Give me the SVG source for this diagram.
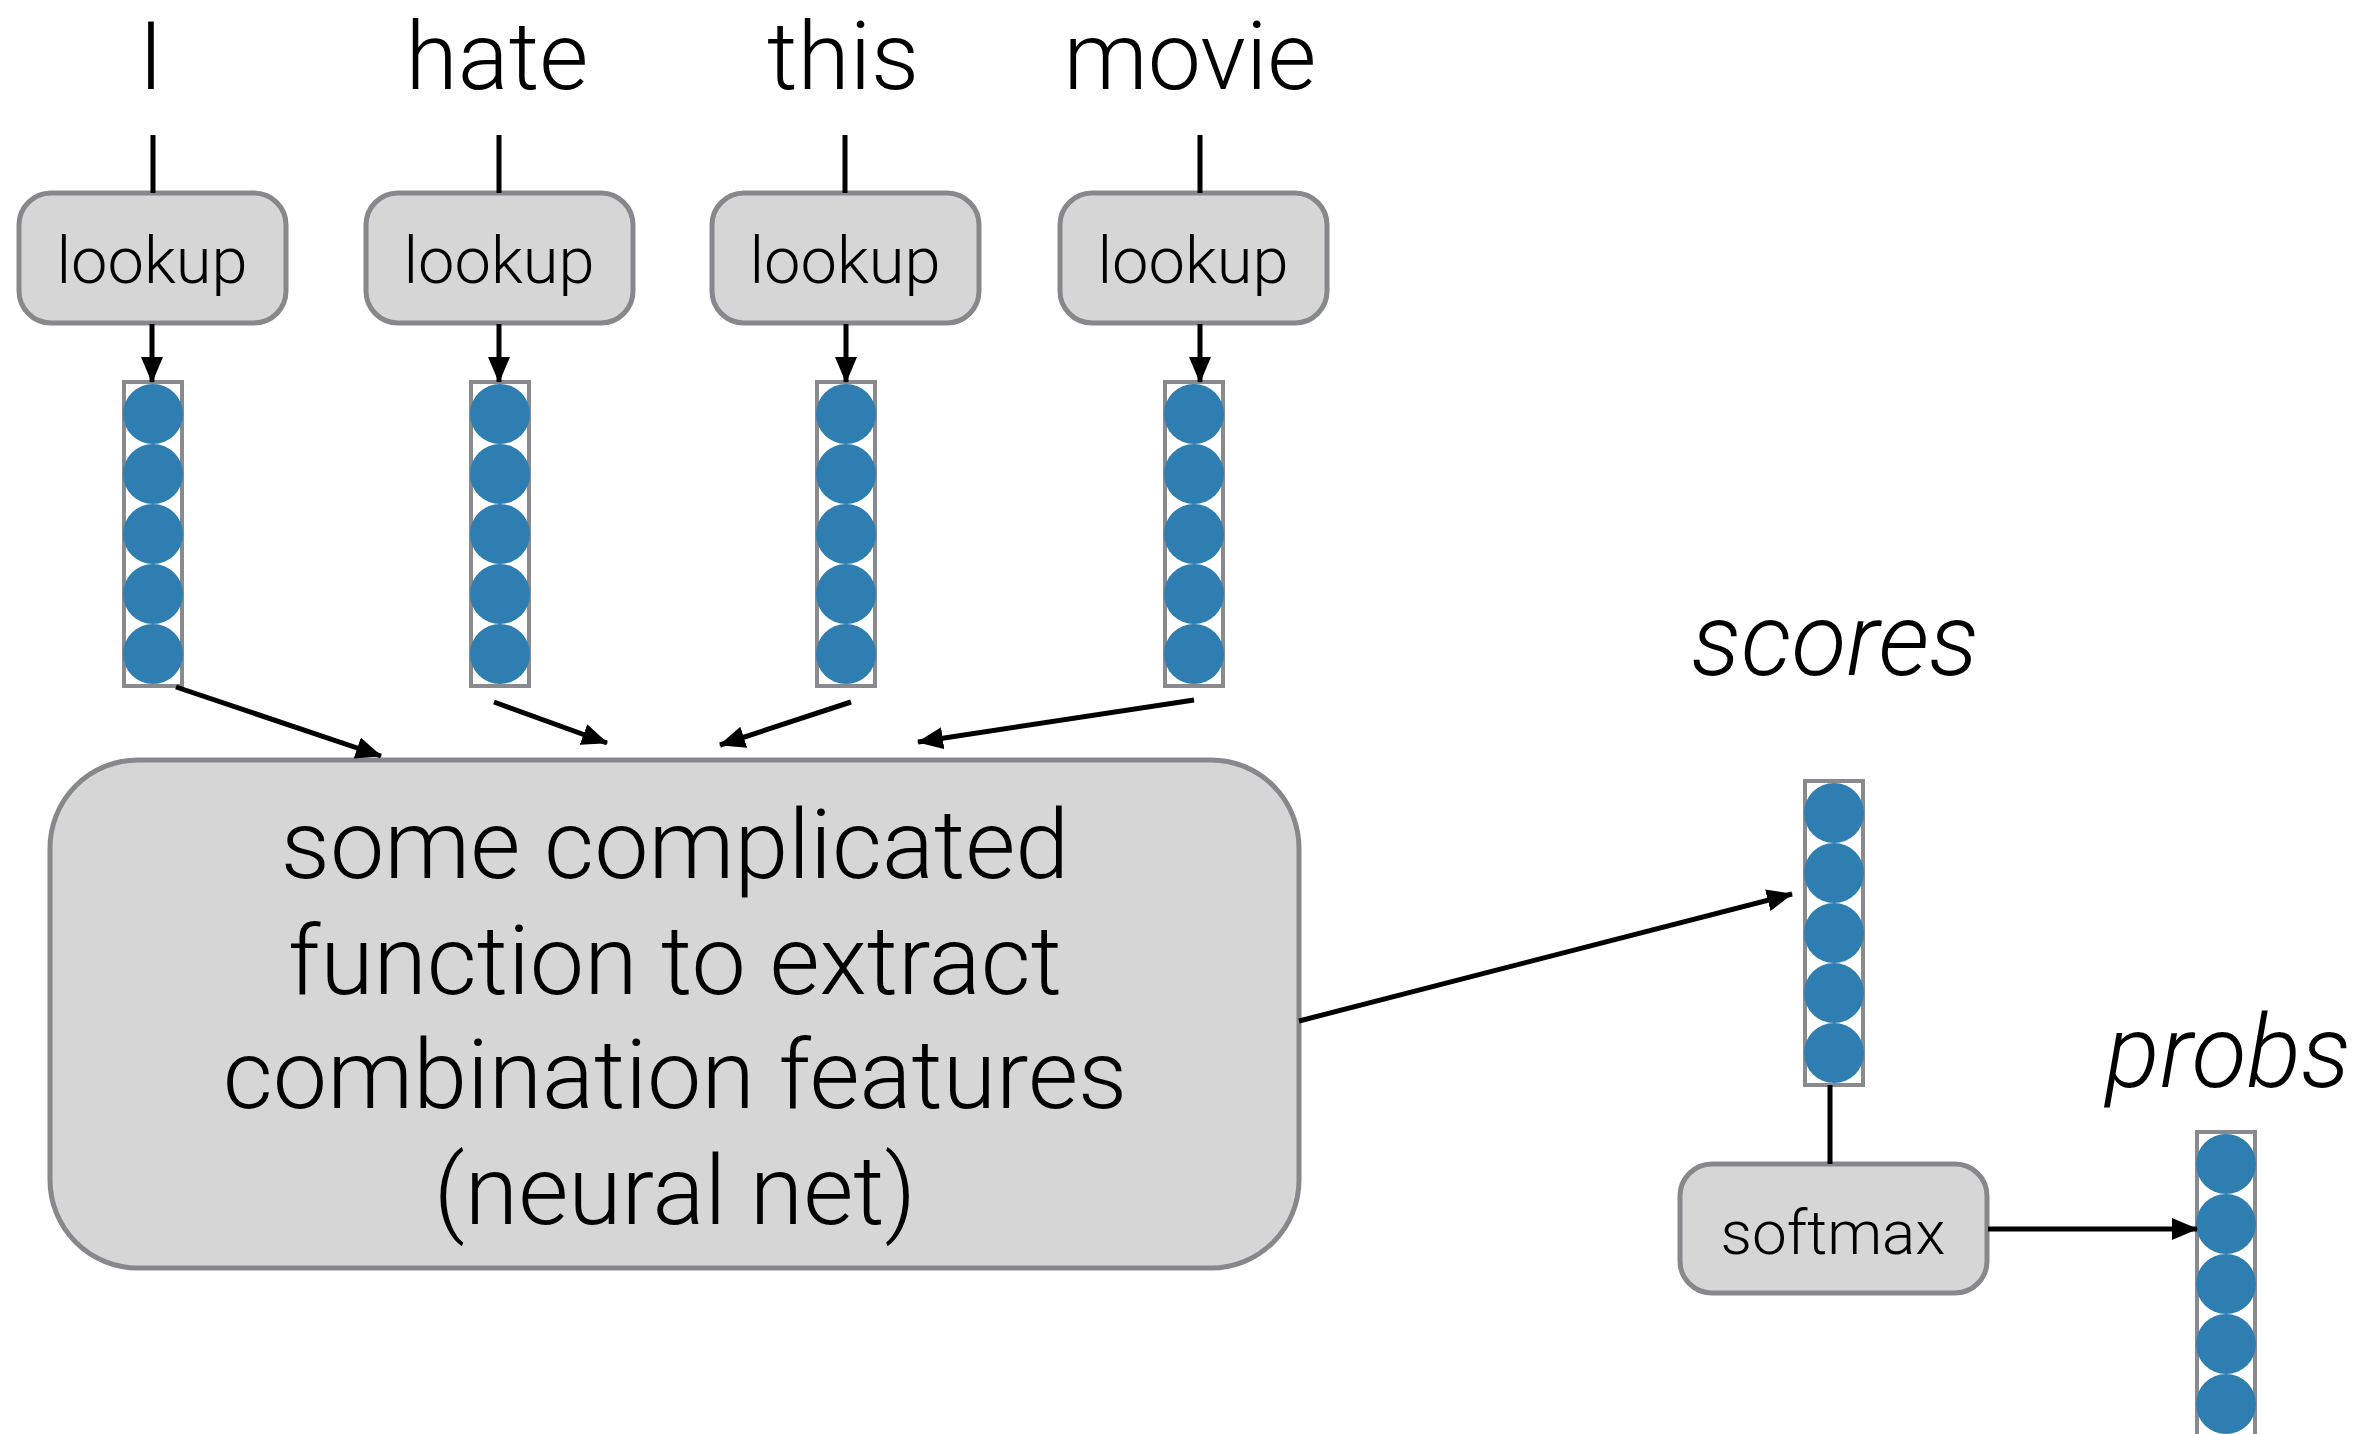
<svg xmlns="http://www.w3.org/2000/svg" width="2361" height="1434" viewBox="0 0 2361 1434">
<defs>
<marker id="ah" viewBox="0 0 26 22" refX="25" refY="11" markerWidth="26" markerHeight="22" markerUnits="userSpaceOnUse" orient="auto">
<path d="M0,0 L26,11 L0,22 z" fill="#000"/>
</marker>
<g id="vec">
<rect x="-29" y="0" width="58" height="304" fill="#fff" stroke="#888a8e" stroke-width="4"/>
<circle cx="0" cy="32" r="30" class="dot"/>
<circle cx="0" cy="92" r="30" class="dot"/>
<circle cx="0" cy="152" r="30" class="dot"/>
<circle cx="0" cy="212" r="30" class="dot"/>
<circle cx="0" cy="272" r="30" class="dot"/>
</g>
</defs>
<style>
text{font-family:"Helvetica Neue",Roboto,"Liberation Sans",Arial,sans-serif;font-weight:300;fill:#000;text-anchor:middle}
.word{font-size:95px}
.small{font-size:65px}
.soft{font-size:62px}
.big{font-size:97px}
.ital{font-size:101px;font-style:italic}
.box{fill:#d6d6d6;stroke:#86888c;stroke-width:5}
.dot{fill:#2e7eb2}
.conn{stroke:#000;stroke-width:5;fill:none}
.arr{marker-end:url(#ah)}
</style>
<rect width="2361" height="1434" fill="#fff"/>

<g id="words">
<text class="word" x="151" y="89">I</text>
<text class="word" x="497" y="89">hate</text>
<text class="word" x="843" y="89">this</text>
<text class="word" x="1190" y="89">movie</text>
</g>

<g id="lookup1"><rect class="box" x="19" y="193" width="267" height="130" rx="32"/><text class="small" x="152" y="283">lookup</text></g>
<g id="lookup2"><rect class="box" x="366" y="193" width="267" height="130" rx="32"/><text class="small" x="499" y="283">lookup</text></g>
<g id="lookup3"><rect class="box" x="712" y="193" width="267" height="130" rx="32"/><text class="small" x="845" y="283">lookup</text></g>
<g id="lookup4"><rect class="box" x="1060" y="193" width="267" height="130" rx="32"/><text class="small" x="1193" y="283">lookup</text></g>

<g id="vec1"><use href="#vec" x="153" y="382"/></g>
<g id="vec2"><use href="#vec" x="500" y="382"/></g>
<g id="vec3"><use href="#vec" x="846" y="382"/></g>
<g id="vec4"><use href="#vec" x="1194" y="382"/></g>

<g id="nn">
<rect class="box" x="50" y="760" width="1249" height="508" rx="88"/>
<text class="big" x="675" y="878">some complicated</text>
<text class="big" x="675" y="994">function to extract</text>
<text class="big" x="675" y="1108">combination features</text>
<text class="big" x="675" y="1224">(neural net)</text>
</g>

<g id="scores">
<text class="ital" x="1835" y="675">scores</text>
<use href="#vec" x="1834" y="781"/>
</g>

<g id="softmax"><rect class="box" x="1680" y="1164" width="307" height="129" rx="32"/><text class="soft" x="1833" y="1254">softmax</text></g>

<g id="probs">
<text class="ital" x="2228" y="1087">probs</text>
<use href="#vec" x="2226" y="1132"/>
</g>

<g id="connectors">
<line class="conn" x1="153" y1="135" x2="153" y2="193"/>
<line class="conn" x1="499" y1="135" x2="499" y2="193"/>
<line class="conn" x1="845" y1="135" x2="845" y2="193"/>
<line class="conn" x1="1200" y1="135" x2="1200" y2="193"/>
<line class="conn arr" x1="152" y1="324" x2="152" y2="382"/>
<line class="conn arr" x1="499" y1="324" x2="499" y2="382"/>
<line class="conn arr" x1="846" y1="324" x2="846" y2="382"/>
<line class="conn arr" x1="1200" y1="324" x2="1200" y2="382"/>
<line class="conn arr" x1="176" y1="687" x2="381" y2="756"/>
<line class="conn arr" x1="494" y1="702" x2="607" y2="743"/>
<line class="conn arr" x1="851" y1="702" x2="720" y2="745"/>
<line class="conn arr" x1="1194" y1="700" x2="918" y2="742"/>
<line class="conn arr" x1="1299" y1="1021" x2="1792" y2="894"/>
<line class="conn" x1="1830" y1="1085" x2="1830" y2="1164"/>
<line class="conn arr" x1="1988" y1="1229" x2="2197" y2="1229"/>
</g>
</svg>
